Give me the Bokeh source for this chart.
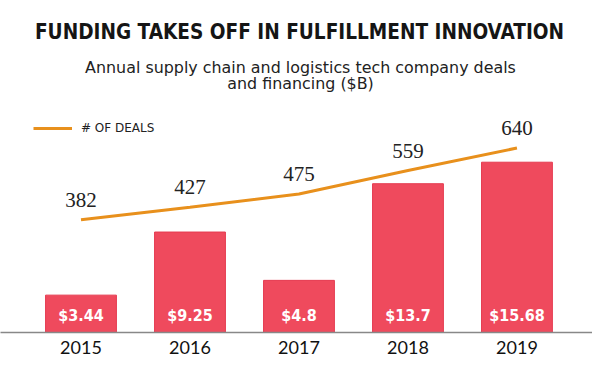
from bokeh.plotting import figure
from bokeh.models import (Range1d, FixedTicker, Label, Legend, LegendItem,
                          ColumnDataSource)
from bokeh.core.properties import value
from bokeh.embed import file_html
from bokeh.resources import INLINE

# ---- data ----
years = [2015, 2016, 2017, 2018, 2019]
year_labels = ["2015", "2016", "2017", "2018", "2019"]
funding = [3.44, 9.25, 4.8, 13.7, 15.68]
funding_labels = ["$3.44", "$9.25", "$4.8", "$13.7", "$15.68"]
deals = [382, 427, 475, 559, 640]
deal_labels = ["382", "427", "475", "559", "640"]

title_text = "FUNDING TAKES OFF IN FULFILLMENT INNOVATION"
subtitle_1 = "Annual supply chain and logistics tech company deals"
subtitle_2 = "and financing ($B)"
legend_text = "# OF DEALS"

BAR = "#EF4A5D"
LINE = "#E8901C"
NARROW = "DejaVu Sans Condensed"

src = ColumnDataSource(dict(year=years, funding=funding, flab=funding_labels,
                            deals=deals, dlab=deal_labels))

p = figure(width=592, height=356, output_backend="svg", toolbar_location=None,
           x_range=Range1d(2014.2615, 2019.693), y_range=Range1d(0, 30.57),
           y_axis_location=None, title=None,
           min_border_left=0, min_border_right=0, min_border_top=0,
           min_border_bottom=0)
p.extra_y_ranges = {"deals": Range1d(-23.5, 1170.7)}
p.outline_line_color = None
p.xgrid.visible = False
p.ygrid.visible = False

# header (screen units inside the frame)
p.add_layout(Label(x=299, y=301, x_units="screen", y_units="screen",
                   text=title_text, text_align="center", text_baseline="middle",
                   text_font=NARROW, text_font_size="20.6px",
                   text_font_style="bold", text_color="#151515"))
p.add_layout(Label(x=300, y=265, x_units="screen", y_units="screen",
                   text=subtitle_1, text_align="center", text_baseline="middle",
                   text_font="DejaVu Sans", text_font_size="15.9px",
                   text_color="#222222"))
p.add_layout(Label(x=300, y=249, x_units="screen", y_units="screen",
                   text=subtitle_2, text_align="center", text_baseline="middle",
                   text_font="DejaVu Sans", text_font_size="15.9px",
                   text_color="#222222"))

p.vbar(x="year", top="funding", bottom=0, width=0.65, source=src,
       fill_color=BAR, line_color="#E53B50", line_width=1)

r = p.line("year", "deals", source=src, y_range_name="deals",
           line_color=LINE, line_width=3)

p.text("year", "deals", text="dlab", source=src, y_range_name="deals",
       text_align="center", text_baseline="alphabetic", y_offset=-20,
       text_font=value("Liberation Serif"), text_font_size="21px",
       text_color="#222222")

p.text("year", 0, text="flab", source=src,
       text_align="center", text_baseline="alphabetic", y_offset=-17,
       text_font=value(NARROW), text_font_size="16px",
       text_font_style="bold", text_color="white")

ax = p.xaxis[0]
ax.ticker = FixedTicker(ticks=years)
ax.major_label_overrides = {y: l for y, l in zip(years, year_labels)}
ax.major_tick_line_color = None
ax.minor_tick_line_color = None
ax.major_tick_out = 0
ax.major_label_standoff = 8
ax.major_label_text_font = "Lato"
ax.major_label_text_font_size = "18px"
ax.major_label_text_color = "#111111"
ax.axis_line_color = "#888888"
ax.axis_line_width = 1.5

legend = Legend(items=[LegendItem(label=legend_text, renderers=[r])],
                location=(33, 197), glyph_width=39, glyph_height=14,
                label_text_font="DejaVu Sans", label_text_font_size="12px",
                label_text_color="#222222", label_standoff=9,
                padding=0, margin=0, border_line_alpha=0,
                background_fill_alpha=0)
p.add_layout(legend)

open("out.html", "w").write(file_html(p, INLINE))
